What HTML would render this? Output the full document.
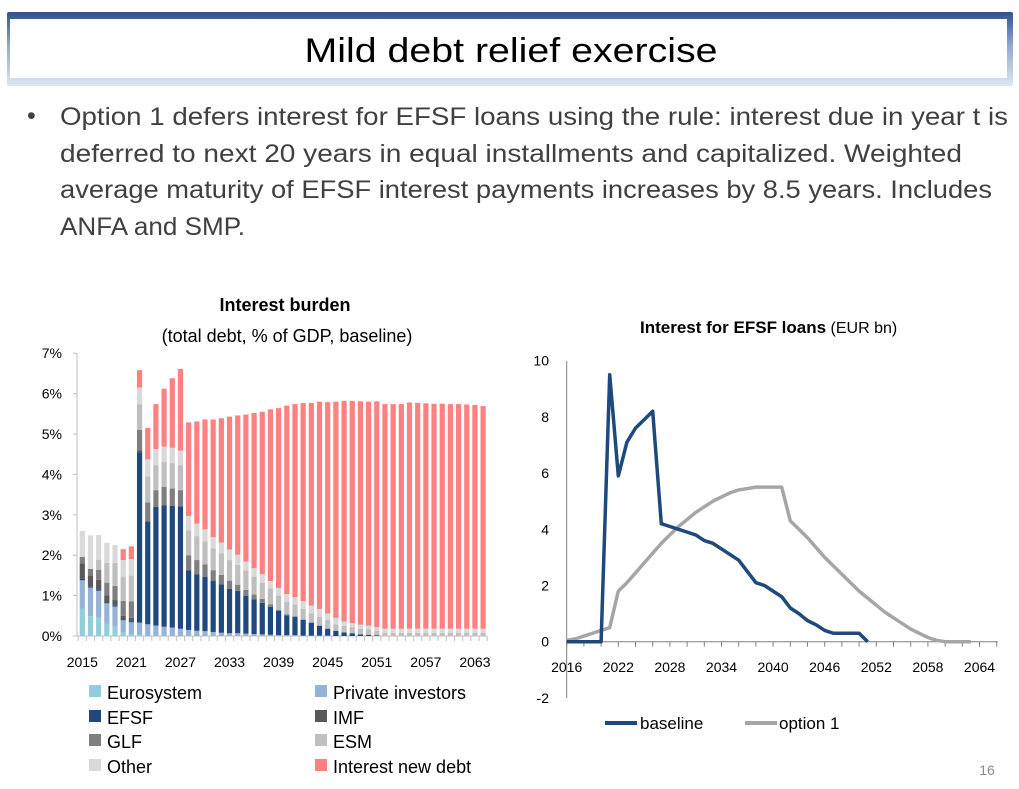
<!DOCTYPE html>
<html><head><meta charset="utf-8"><style>
html,body{margin:0;padding:0;background:#fff;}
svg{display:block;font-family:"Liberation Sans",sans-serif;}
</style></head><body>
<svg id="slide" width="1019" height="789" viewBox="0 0 1019 789" xmlns="http://www.w3.org/2000/svg">
<defs>
<linearGradient id="tg" x1="0" y1="0" x2="0" y2="1">
<stop offset="0" stop-color="#2f5289"/><stop offset="0.45" stop-color="#8ea8cf"/><stop offset="1" stop-color="#dfe6f3"/>
</linearGradient>
</defs>
<g>
<rect x="7" y="12" width="1006" height="74" rx="2" fill="url(#tg)"/>
<rect x="10" y="19" width="997" height="59" fill="#fff"/>
<text x="511" y="62" font-size="34" text-anchor="middle" textLength="413" lengthAdjust="spacingAndGlyphs" fill="#000">Mild debt relief exercise</text>
</g>
<g fill="#404040" font-size="25">
<text x="27" y="124">•</text>
<text x="60" y="125" textLength="948" lengthAdjust="spacingAndGlyphs">Option 1 defers interest for EFSF loans using the rule: interest due in year t is</text>
<text x="60" y="162" textLength="902" lengthAdjust="spacingAndGlyphs">deferred to next 20 years in equal installments and capitalized. Weighted</text>
<text x="60" y="198" textLength="932" lengthAdjust="spacingAndGlyphs">average maturity of EFSF interest payments increases by 8.5 years. Includes</text>
<text x="60" y="235" textLength="185" lengthAdjust="spacingAndGlyphs">ANFA and SMP.</text>
</g>
<text x="285" y="311" font-size="18" font-weight="bold" text-anchor="middle">Interest burden</text>
<text x="287" y="342" font-size="18" text-anchor="middle">(total debt, % of GDP, baseline)</text>
<g id="left"></g>
<g font-size="18" fill="#000">
<rect x="89" y="685" width="12" height="12" fill="#92cddc"/><text x="107" y="699">Eurosystem</text>
<rect x="315" y="685" width="12" height="12" fill="#95b3d7"/><text x="333" y="699">Private investors</text>
<rect x="89" y="710" width="12" height="12" fill="#1f497d"/><text x="107" y="724">EFSF</text>
<rect x="315" y="710" width="12" height="12" fill="#595959"/><text x="333" y="724">IMF</text>
<rect x="89" y="734" width="12" height="12" fill="#7f7f7f"/><text x="107" y="748">GLF</text>
<rect x="315" y="734" width="12" height="12" fill="#bfbfbf"/><text x="333" y="748">ESM</text>
<rect x="89" y="759" width="12" height="12" fill="#d9d9d9"/><text x="107" y="773">Other</text>
<rect x="315" y="759" width="12" height="12" fill="#ff8080"/><text x="333" y="773">Interest new debt</text>
</g>
<text x="640" y="333" font-size="17"><tspan font-weight="bold">Interest for EFSF loans</tspan><tspan font-size="16"> (EUR bn)</tspan></text>
<g id="right"></g>
<g font-size="17">
<line x1="605" y1="723" x2="637" y2="723" stroke="#1f497d" stroke-width="4"/><text x="640" y="729">baseline</text>
<line x1="745" y1="723" x2="777" y2="723" stroke="#a6a6a6" stroke-width="4"/><text x="779" y="729">option 1</text>
</g>
<text x="987" y="775" font-size="14" fill="#8c8c8c" text-anchor="middle">16</text>
</svg>
<script>
const NS="http://www.w3.org/2000/svg";
// ---- Left chart data (% of GDP), years 2015..2064
const leftYears=[];for(let y=2015;y<=2064;y++)leftYears.push(y);
const seriesNames=["Eurosystem","Private investors","EFSF","IMF","GLF","ESM","Other","Interest new debt"];
const eurosystem=[.68,.49,.45,.30,.23,.08,.05,.02,0,0,0,0,0,0,0,0,0,0,0,0,0,0,0,0,0,0,0,0,0,0,0,0,0,0,0,0,0,0,0,0,0,0,0,0,0,0,0,0,0,0];
const privateInv=[.70,.71,.67,.51,.50,.31,.29,.31,.29,.26,.23,.21,.18,.15,.13,.12,.10,.08,.07,.07,.06,.05,.04,.03,.02,.02,.02,.01,.01,.01,.01,0,0,0,0,0,0,0,0,0,0,0,0,0,0,0,0,0,0,0];
const efsf=[.05,.02,.02,.02,.02,.02,.02,4.2,2.55,2.94,3.0,3.01,3.03,1.48,1.40,1.34,1.27,1.20,1.10,1.05,.93,.86,.78,.69,.60,.49,.45,.39,.32,.24,.17,.13,.09,.07,.04,.03,.02,0,0,0,0,0,0,0,0,0,0,0,0,0];
const imf=[.37,.28,.25,.18,.14,.09,.09,.07,0,0,0,0,0,0,0,0,0,0,0,0,0,0,0,0,0,0,0,0,0,0,0,0,0,0,0,0,0,0,0,0,0,0,0,0,0,0,0,0,0,0];
const glf=[.16,.16,.25,.31,.35,.37,.41,.50,.47,.41,.46,.43,.40,.37,.35,.31,.26,.23,.20,.15,.15,.12,.10,.06,.03,.03,.02,.01,.01,.01,.01,0,0,0,0,0,0,0,0,0,0,0,0,0,0,0,0,0,0,0];
const esm=[0,0,.25,.49,.57,.60,.64,.64,.64,.62,.62,.63,.62,.62,.59,.57,.54,.54,.51,.49,.48,.44,.40,.40,.35,.31,.29,.26,.22,.21,.21,.16,.16,.15,.14,.13,.11,.08,.08,.08,.08,.08,.08,.08,.08,.08,.08,.08,.08,.08];
const other=[.64,.83,.61,.50,.44,.41,.40,.41,.42,.40,.38,.38,.36,.35,.31,.30,.28,.26,.26,.25,.22,.21,.21,.18,.19,.19,.18,.19,.19,.20,.16,.16,.11,.10,.10,.10,.09,.10,.10,.10,.10,.10,.10,.10,.10,.10,.10,.10,.10,.10];
const newDebt=[0,0,0,0,0,.27,.32,.43,.78,1.11,1.43,1.72,2.02,2.32,2.53,2.72,2.91,3.08,3.29,3.45,3.64,3.84,4.02,4.25,4.45,4.66,4.78,4.91,5.02,5.13,5.23,5.35,5.46,5.50,5.53,5.54,5.59,5.56,5.56,5.56,5.60,5.59,5.58,5.57,5.57,5.56,5.56,5.55,5.54,5.51];
const leftYTicks=["0%","1%","2%","3%","4%","5%","6%","7%"];
const leftColors=["#92cddc","#95b3d7","#1f497d","#595959","#7f7f7f","#bfbfbf","#d9d9d9","#ff8080"];
const L={x0:77,x1:487,y0:636,perPct:40.4,first:82.3,step:8.18,bw:5.2};
const lx=i=>L.first+i*L.step;
const ly=v=>L.y0-v*L.perPct;
function el(tag,attrs,parent,txt){const e=document.createElementNS(NS,tag);for(const k in attrs)e.setAttribute(k,attrs[k]);if(txt!==undefined)e.textContent=txt;parent.appendChild(e);return e;}
const lg=document.getElementById("left");
el("line",{x1:L.x0,y1:ly(0),x2:L.x0,y2:ly(7),stroke:"#bfbfbf"},lg);
el("line",{x1:L.x0,y1:ly(0),x2:L.x1,y2:ly(0),stroke:"#bfbfbf"},lg);
leftYTicks.forEach((t,i)=>{
  el("line",{x1:L.x0-4,y1:ly(i),x2:L.x0,y2:ly(i),stroke:"#bfbfbf"},lg);
  const tx=el("text",{x:62,y:ly(i)+5,"font-size":14,"text-anchor":"end"},lg,t);
  
  
});
for(let i=0;i<=leftYears.length;i++){const x=L.first+(i-0.5)*L.step;el("line",{x1:x,y1:ly(0),x2:x,y2:ly(0)+5,stroke:"#bfbfbf"},lg);}
const allSeries=[eurosystem,privateInv,efsf,imf,glf,esm,other,newDebt];
leftYears.forEach((yr,i)=>{
  let cum=0;
  allSeries.forEach((s,k)=>{
    const v=s[i];if(v<=0)return;
    const r=el("rect",{x:lx(i)-L.bw/2,y:ly(cum+v),width:L.bw,height:v*L.perPct,fill:leftColors[k]},lg);
    
    
    cum+=v;
  });
  if(i%6===0){
    const t=el("text",{x:lx(i),y:667,"font-size":14,"text-anchor":"middle"},lg,String(yr));
    
    
  }
});
// ---- Right chart data (EUR bn)
const baselineYears=[2016,2017,2018,2019,2020,2021,2022,2023,2024,2025,2026,2027,2028,2029,2030,2031,2032,2033,2034,2035,2036,2037,2038,2039,2040,2041,2042,2043,2044,2045,2046,2047,2048,2049,2050,2051];
const baseline=[0,0,0,0,0,9.5,5.9,7.1,7.6,7.9,8.2,4.2,4.1,4.0,3.9,3.8,3.6,3.5,3.3,3.1,2.9,2.5,2.1,2.0,1.8,1.6,1.2,1.0,0.75,0.6,0.4,0.3,0.3,0.3,0.3,0.0];
const option1Years=[];for(let y=2016;y<=2063;y++)option1Years.push(y);
const option1=[0.05,0.1,0.2,0.3,0.4,0.5,1.8,2.1,2.45,2.8,3.15,3.5,3.8,4.1,4.35,4.6,4.8,5.0,5.15,5.3,5.4,5.45,5.5,5.5,5.5,5.5,4.3,4.0,3.7,3.35,3.0,2.7,2.4,2.1,1.8,1.55,1.3,1.05,0.85,0.65,0.45,0.3,0.15,0.05,0,0,0,0];
const rightYTicks=[-2,0,2,4,6,8,10];
const rightXTicks=[2016,2022,2028,2034,2040,2046,2052,2058,2064];
const R={x0:566.7,perYear:8.6,y0:641.7,perUnit:28.1,xEnd:998};
const rx=y=>R.x0+(y-2016)*R.perYear;
const ry=v=>R.y0-v*R.perUnit;
const rg=document.getElementById("right");
el("line",{x1:R.x0,y1:ry(10),x2:R.x0,y2:ry(-2),stroke:"#808080"},rg);
el("line",{x1:R.x0,y1:ry(0),x2:R.xEnd,y2:ry(0),stroke:"#808080"},rg);
rightYTicks.forEach(v=>{
  const t=el("text",{x:549,y:ry(v)+5,"font-size":14,"text-anchor":"end"},rg,String(v));
  
  
});
for(let y=2016;y<=2066;y+=2){el("line",{x1:rx(y),y1:ry(0),x2:rx(y),y2:ry(0)+5,stroke:"#808080"},rg);}
rightXTicks.forEach(y=>{
  const t=el("text",{x:rx(y),y:672,"font-size":14,"text-anchor":"middle"},rg,String(y));
  
  
});
const p1=el("polyline",{points:option1Years.map((y,i)=>rx(y)+","+ry(option1[i])).join(" "),fill:"none",stroke:"#a6a6a6","stroke-width":3.5,"stroke-linejoin":"round"},rg);


const p0=el("polyline",{points:baselineYears.map((y,i)=>rx(y)+","+ry(baseline[i])).join(" "),fill:"none",stroke:"#1f497d","stroke-width":3.5,"stroke-linejoin":"round"},rg);


</script>
</body></html>
